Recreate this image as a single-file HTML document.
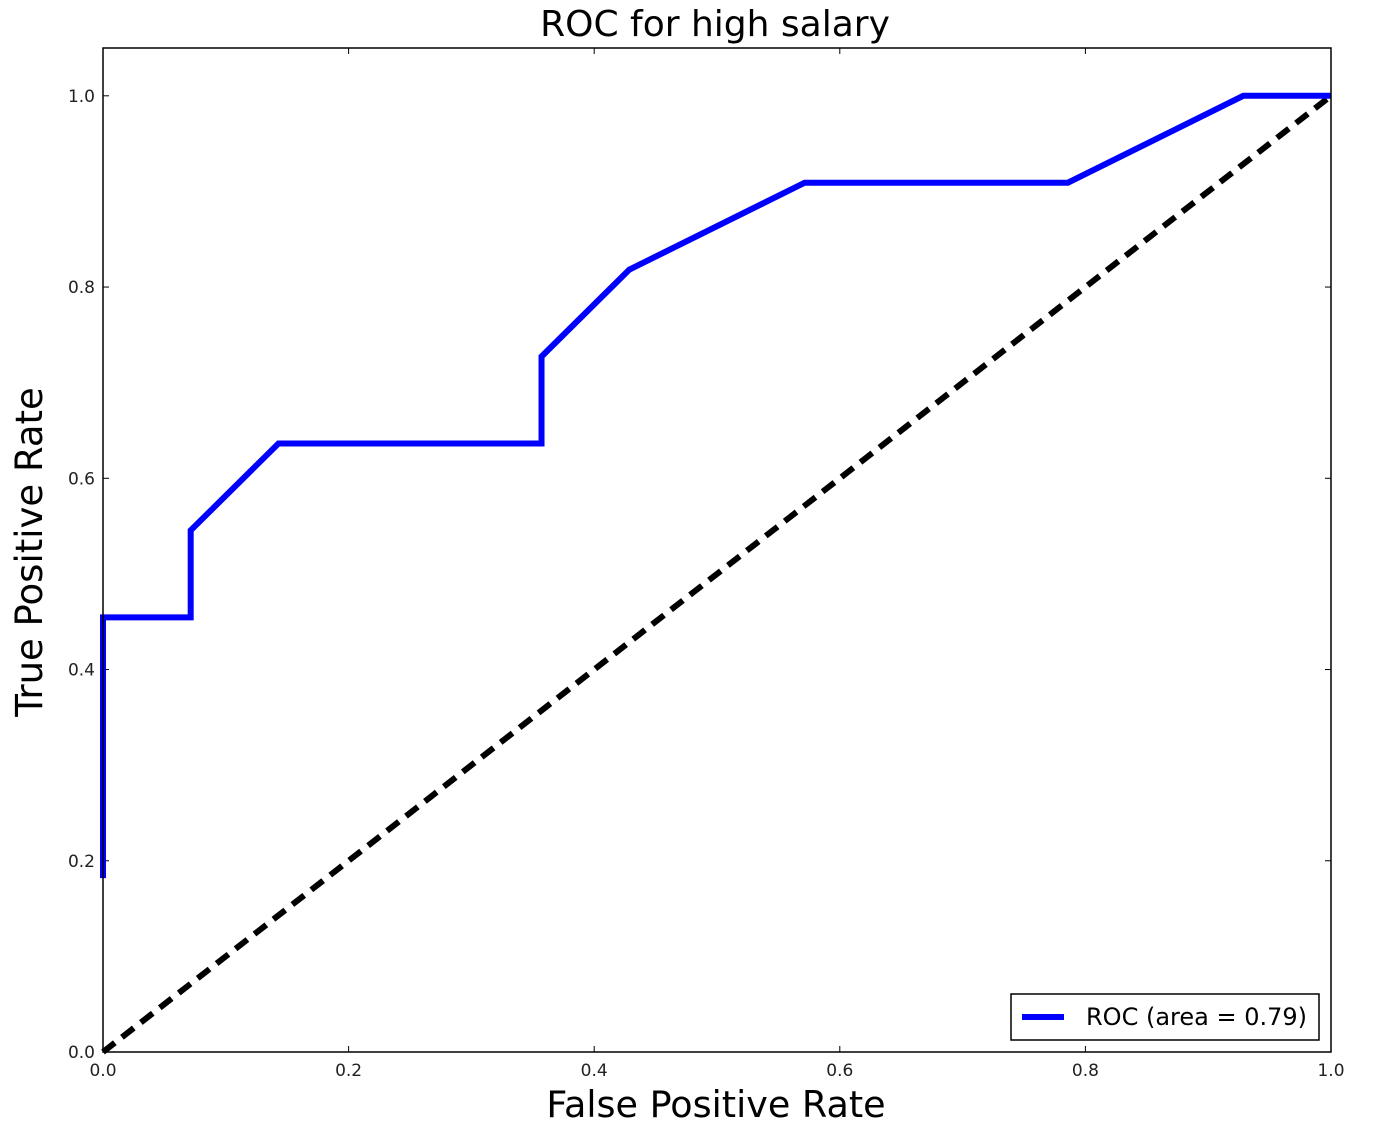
<!DOCTYPE html>
<html><head><meta charset="utf-8"><style>
html,body{margin:0;padding:0;background:#fff;}
svg{display:block;font-family:"DejaVu Sans","Liberation Sans",sans-serif;}
</style></head><body>
<svg id="chart" width="1374" height="1124" viewBox="0 0 1374 1124">
<rect width="1374" height="1124" fill="#fff"/>
<g id="ticks"></g>
<g id="series"></g>
<rect x="103" y="48" width="1228" height="1004" fill="none" stroke="#000" stroke-width="1.5"/>
<text x="715" y="36" text-anchor="middle" font-size="36">ROC for high salary</text>
<text x="716" y="1117" text-anchor="middle" font-size="36.5">False Positive Rate</text>
<text transform="translate(42,552) rotate(-90)" text-anchor="middle" font-size="37">True Positive Rate</text>
<g>
<rect x="1011" y="994" width="308" height="46" fill="#fff" stroke="#000" stroke-width="1.5"/>
<line x1="1022" y1="1017" x2="1064" y2="1017" stroke="#0000ff" stroke-width="6"/>
<text x="1086" y="1025" font-size="24">ROC (area = 0.79)</text>
</g>
</svg>
<script>
const fpr = [0, 0, 0.0714, 0.0714, 0.1429, 0.3571, 0.3571, 0.4286, 0.5714, 0.7857, 0.9286, 1.0];
const tpr = [0.1818, 0.4545, 0.4545, 0.5455, 0.6364, 0.6364, 0.7273, 0.8182, 0.9091, 0.9091, 1.0, 1.0];
const chanceX = [0, 1];
const chanceY = [0, 1];
const xTicks = [0, 0.2, 0.4, 0.6, 0.8, 1.0];
const yTicks = [0, 0.2, 0.4, 0.6, 0.8, 1.0];
const xTickLabels = ["0.0","0.2","0.4","0.6","0.8","1.0"];
const yTickLabels = ["0.0","0.2","0.4","0.6","0.8","1.0"];

const NS = "http://www.w3.org/2000/svg";
const X0 = 103, X1 = 1331, Y0 = 1052, YTOP = 48, YMAX = 1.05;
function sx(v){ return X0 + v * (X1 - X0); }
function sy(v){ return Y0 - v / YMAX * (Y0 - YTOP); }
function mk(tag, attrs, parent){
  const e = document.createElementNS(NS, tag);
  for (const k in attrs) e.setAttribute(k, attrs[k]);
  parent.appendChild(e); return e;
}
const tg = document.getElementById('ticks');
xTicks.forEach((v,i)=>{
  const x = sx(v);
  const t1 = mk('line',{x1:x,y1:Y0,x2:x,y2:Y0-6,stroke:'#000','stroke-width':1},tg);
  
  
  const t2 = mk('line',{x1:x,y1:YTOP,x2:x,y2:YTOP+6,stroke:'#000','stroke-width':1},tg);
  
  
  const l = mk('text',{x:x,y:Y0+24,'text-anchor':'middle','font-size':17,fill:'#222'},tg);
  l.textContent = xTickLabels[i];
  
  
});
yTicks.forEach((v,i)=>{
  const y = sy(v);
  const t1 = mk('line',{x1:X0,y1:y,x2:X0+6,y2:y,stroke:'#000','stroke-width':1},tg);
  
  
  const t2 = mk('line',{x1:X1,y1:y,x2:X1-6,y2:y,stroke:'#000','stroke-width':1},tg);
  
  
  const l = mk('text',{x:X0-8,y:y+6,'text-anchor':'end','font-size':17,fill:'#222'},tg);
  l.textContent = yTickLabels[i];
  
  
});
const sg = document.getElementById('series');
const cp = mk('polyline',{points:chanceX.map((v,i)=>sx(v)+','+sy(chanceY[i])).join(' '),fill:'none',stroke:'#000','stroke-width':6,'stroke-dasharray':'15 9'},sg);


const rp = mk('polyline',{points:fpr.map((v,i)=>sx(v)+','+sy(tpr[i])).join(' '),fill:'none',stroke:'#0000ff','stroke-width':6,'stroke-linejoin':'miter'},sg);


</script>
</body></html>
